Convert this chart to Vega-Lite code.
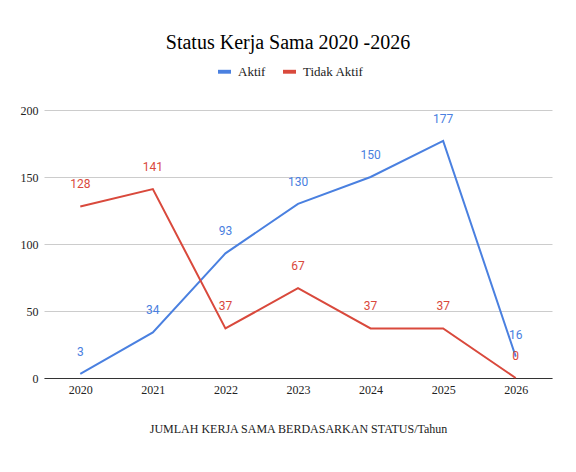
{
  "$schema": "https://vega.github.io/schema/vega-lite/v6.json",
  "width": 508,
  "height": 268,
  "autosize": {"type": "none"},
  "padding": {"left": 44, "top": 110, "right": 24, "bottom": 94},
  "background": "white",
  "title": {
    "text": "Status Kerja Sama 2020 -2026",
    "font": "Liberation Serif",
    "fontSize": 20,
    "fontWeight": "normal",
    "color": "#000000",
    "anchor": "middle",
    "dx": -10,
    "offset": 12
  },
  "data": {
    "values": [
      {"tahun": "2020", "status": "Aktif", "jumlah": 3},
      {"tahun": "2021", "status": "Aktif", "jumlah": 34},
      {"tahun": "2022", "status": "Aktif", "jumlah": 93},
      {"tahun": "2023", "status": "Aktif", "jumlah": 130},
      {"tahun": "2024", "status": "Aktif", "jumlah": 150},
      {"tahun": "2025", "status": "Aktif", "jumlah": 177},
      {"tahun": "2026", "status": "Aktif", "jumlah": 16},
      {"tahun": "2020", "status": "Tidak Aktif", "jumlah": 128},
      {"tahun": "2021", "status": "Tidak Aktif", "jumlah": 141},
      {"tahun": "2022", "status": "Tidak Aktif", "jumlah": 37},
      {"tahun": "2023", "status": "Tidak Aktif", "jumlah": 67},
      {"tahun": "2024", "status": "Tidak Aktif", "jumlah": 37},
      {"tahun": "2025", "status": "Tidak Aktif", "jumlah": 37},
      {"tahun": "2026", "status": "Tidak Aktif", "jumlah": 0}
    ]
  },
  "encoding": {
    "x": {
      "field": "tahun",
      "type": "ordinal",
      "scale": {"type": "point", "padding": 0.5},
      "axis": {
        "title": "JUMLAH KERJA SAMA BERDASARKAN STATUS/Tahun",
        "titleFont": "Liberation Serif",
        "titleFontSize": 12,
        "titleFontWeight": "normal",
        "titleColor": "#222222",
        "titlePadding": 28,
        "labelFont": "Liberation Serif",
        "labelFontSize": 12,
        "labelColor": "#222222",
        "labelAngle": 0,
        "labelPadding": 6,
        "ticks": false,
        "domain": true,
        "domainColor": "#333333",
        "domainWidth": 1,
        "grid": false
      }
    },
    "y": {
      "field": "jumlah",
      "type": "quantitative",
      "scale": {"domain": [0, 200], "nice": false},
      "axis": {
        "title": null,
        "values": [0, 50, 100, 150, 200],
        "labelFont": "Liberation Serif",
        "labelFontSize": 12,
        "labelColor": "#222222",
        "labelPadding": 6,
        "ticks": false,
        "domain": false,
        "grid": true,
        "gridColor": "#cccccc",
        "gridWidth": 1
      }
    },
    "color": {
      "field": "status",
      "type": "nominal",
      "scale": {"domain": ["Aktif", "Tidak Aktif"], "range": ["#4a80e0", "#d9493c"]},
      "legend": {
        "title": null,
        "orient": "none",
        "legendX": 174,
        "legendY": -45,
        "direction": "horizontal",
        "labelFont": "Liberation Serif",
        "labelFontSize": 13,
        "labelColor": "#222222",
        "labelOffset": 7,
        "symbolType": "M-1,-0.3H1V0.3H-1Z",
        "symbolSize": 169,
        "symbolStrokeWidth": 0,
        "columnPadding": 17
      }
    }
  },
  "layer": [
    {
      "mark": {"type": "line", "strokeWidth": 2}
    },
    {
      "mark": {"type": "text", "font": "Roboto", "fontSize": 12, "baseline": "middle", "dy": -22},
      "encoding": {"text": {"field": "jumlah", "type": "quantitative"}}
    }
  ],
  "config": {"view": {"stroke": null}}
}
